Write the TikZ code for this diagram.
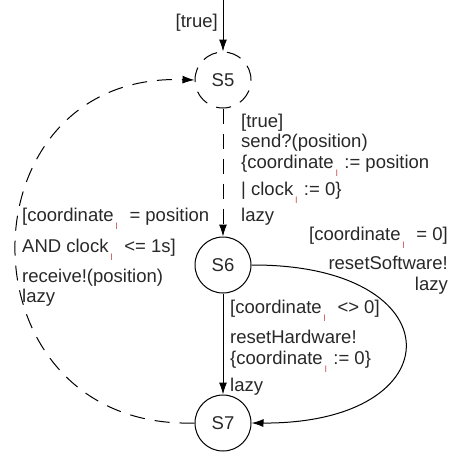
\documentclass[tikz,border=0pt]{standalone}
\usepackage{fontspec}
\setmainfont{Liberation Sans}
\usetikzlibrary{arrows.meta}
\definecolor{subred}{RGB}{190,70,70}
\definecolor{ink}{RGB}{40,40,40}
% small red index mark set below the baseline
\newcommand{\lsub}{\kern2pt\raisebox{-8pt}{\textcolor{subred}{\fontsize{9}{9}\selectfont l}}\kern1.5pt}
\begin{document}
\begin{tikzpicture}[x=1pt,y=-1pt,
  state/.style={circle,draw,line width=1pt,minimum size=56pt,inner sep=0pt,
    text=ink,font=\fontsize{18.5}{21}\selectfont},
  lbl/.style={inner sep=0pt,text=ink,font=\fontsize{18.5}{20.5}\selectfont},
  edge/.style={line width=1pt,-{Latex[length=12pt,width=8pt]}},
  dsh/.style={dash pattern=on 15pt off 10pt}]
\useasboundingbox (0,0) rectangle (454,456);

% states
\node[state,dsh] (s5) at (223,80) {S5};
\node[state] (s6) at (223,265) {S6};
\node[state] (s7) at (223,423) {S7};

% transitions
\coordinate (init) at (223,0);
\draw[edge] (init) -- (s5);
\draw[edge,dsh] (s5) -- (s6);
\draw[edge] (s6) -- (s7);
\draw[edge] (s6.east) .. controls (456,264) and (456,424) .. (s7.east);
\draw[edge,dsh] (s7.west) .. controls (-43,430) and (-43,72) .. (s5.west);

% labels
\node[lbl,anchor=north east] (linit) at (218,13.5) {[true]};
\node[lbl,anchor=north west,align=left] (l56) at (241,113.5)
  {[true]\\ send?(position)\\ \{coordinate\lsub{} := position\\[4.5pt]
   | clock\lsub{} := 0\}\\[4.5pt] lazy};
\node[lbl,anchor=north west,align=left] (l75) at (22,207.5)
  {[coordinate\lsub\ \ = position\\[9pt] AND clock\lsub\ \ <= 1s]\\[8pt]
   receive!(position)\\[-1pt] lazy};
\node[lbl,anchor=north east,align=right] (l67b) at (448,226.5)
  {[coordinate\lsub\ \ = 0]\\[7pt] resetSoftware!\\[1pt] lazy};
\node[lbl,anchor=north west,align=left] (l67a) at (230,299.5)
  {[coordinate\lsub\ \ <> 0]\\[8pt] resetHardware!\\
   \{coordinate\lsub{} := 0\}\\[5pt] lazy};
\end{tikzpicture}
\end{document}
